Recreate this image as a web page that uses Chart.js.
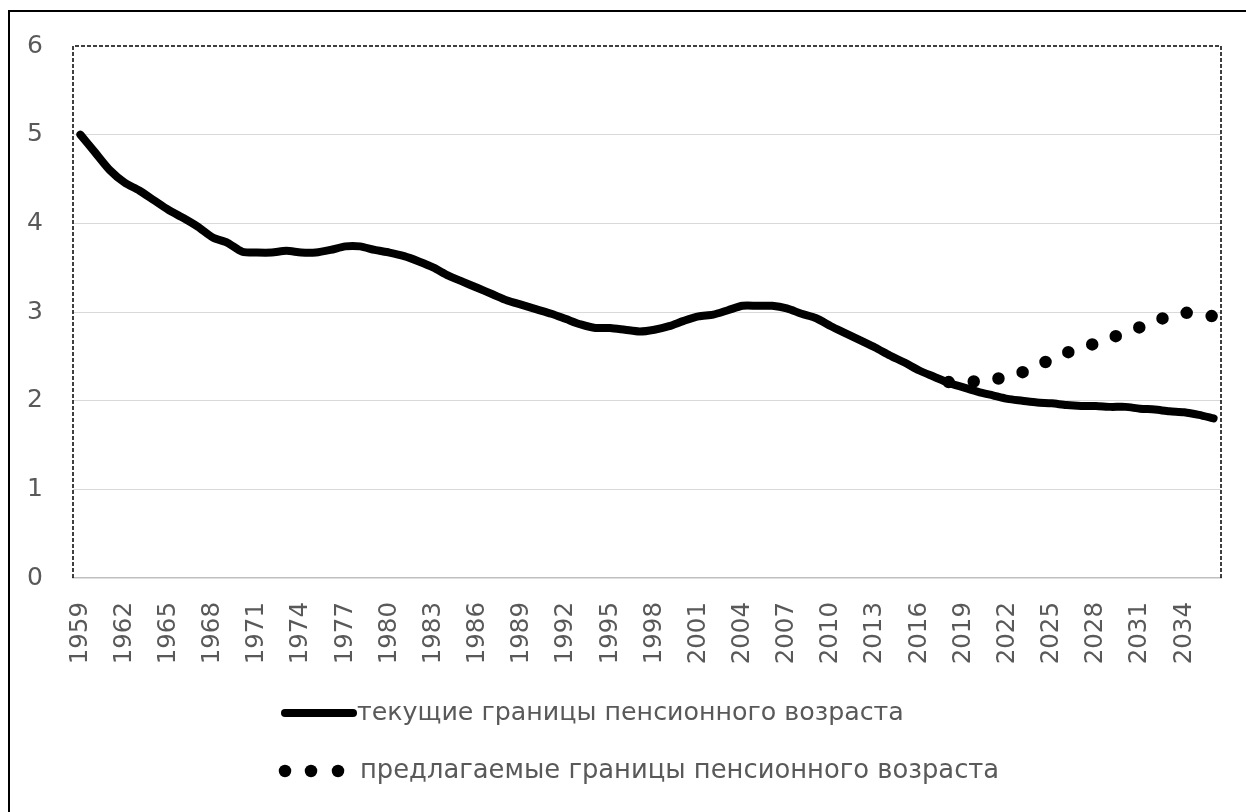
<!DOCTYPE html>
<html>
<head>
<meta charset="utf-8">
<script src="https://cdn.jsdelivr.net/npm/chart.js@4.4.0/dist/chart.umd.min.js"></script>
<style>
  html, body { margin: 0; padding: 0; background: #ffffff; }
  #wrap { position: relative; width: 1246px; height: 812px; overflow: hidden; }
  canvas { display: block; }
</style>
</head>
<body>
<div id="wrap"><canvas id="c" width="1246" height="812"></canvas></div>
<script>
// ---- data ----
const years = ["1959","1960","1961","1962","1963","1964","1965","1966","1967","1968",
  "1969","1970","1971","1972","1973","1974","1975","1976","1977","1978",
  "1979","1980","1981","1982","1983","1984","1985","1986","1987","1988",
  "1989","1990","1991","1992","1993","1994","1995","1996","1997","1998",
  "1999","2000","2001","2002","2003","2004","2005","2006","2007","2008",
  "2009","2010","2011","2012","2013","2014","2015","2016","2017","2018",
  "2019","2020","2021","2022","2023","2024","2025","2026","2027","2028",
  "2029","2030","2031","2032","2033","2034","2035","2036"];

const currentValues = [5.00,4.80,4.60,4.46,4.37,4.26,4.15,4.06,3.96,3.84,
  3.78,3.68,3.67,3.67,3.69,3.67,3.67,3.70,3.74,3.74,
  3.70,3.67,3.63,3.57,3.50,3.41,3.34,3.27,3.20,3.13,
  3.08,3.03,2.98,2.92,2.86,2.82,2.82,2.80,2.78,2.80,
  2.84,2.90,2.95,2.97,3.02,3.07,3.07,3.07,3.04,2.98,
  2.93,2.84,2.76,2.68,2.60,2.51,2.43,2.34,2.27,2.20,
  2.15,2.10,2.06,2.02,2.00,1.98,1.97,1.95,1.94,1.94,
  1.93,1.93,1.91,1.90,1.88,1.87,1.84,1.80];

const proposedYears = ["2018","2019","2020","2021","2022","2023","2024","2025","2026","2027",
  "2028","2029","2030","2031","2032","2033","2034","2035","2036"];
const proposedValues = [2.21,2.21,2.22,2.24,2.27,2.32,2.39,2.47,2.54,2.59,
  2.65,2.71,2.76,2.83,2.90,2.95,2.99,2.98,2.95];

const yTicks = [0,1,2,3,4,5,6];
const seriesLabels = ["текущие границы пенсионного возраста", "предлагаемые границы пенсионного возраста"];

const TEXT = "#595959";
const FONT = "DejaVu Sans";

// ---- plugins ----
const framePlugin = {
  id: "frame",
  beforeDatasetsDraw(chart) {
    const {ctx, chartArea: a} = chart;
    ctx.save();
    ctx.strokeStyle = "#000";
    ctx.lineWidth = 1.5;
    ctx.setLineDash([4, 2]);
    ctx.beginPath();
    ctx.moveTo(a.left, a.bottom);
    ctx.lineTo(a.left, a.top);
    ctx.lineTo(a.right, a.top);
    ctx.lineTo(a.right, a.bottom);
    ctx.stroke();
    ctx.restore();
  },
  afterDraw(chart) {
    const {ctx, width, height} = chart;
    ctx.save();
    // outer chart frame (extends beyond the picture on right/bottom)
    ctx.strokeStyle = "#000";
    ctx.lineWidth = 2;
    ctx.beginPath();
    ctx.moveTo(9, height + 5);
    ctx.lineTo(9, 11);
    ctx.lineTo(width + 5, 11);
    ctx.stroke();
    ctx.restore();
  }
};

const legendPlugin = {
  id: "customLegend",
  afterDraw(chart) {
    const {ctx, chartArea: a} = chart;
    const ds = chart.data.datasets;
    const x0 = a.left + 208;
    const rows = [a.bottom + 135, a.bottom + 193];
    ctx.save();
    ctx.textBaseline = "middle";
    ctx.fillStyle = TEXT;
    // row 1: solid line sample
    ctx.strokeStyle = ds[0].borderColor;
    ctx.lineWidth = ds[0].borderWidth;
    ctx.lineCap = "round";
    ctx.beginPath();
    ctx.moveTo(x0 + 4, rows[0]);
    ctx.lineTo(x0 + 72, rows[0]);
    ctx.stroke();
    ctx.font = "25.3px '" + FONT + "'";
    ctx.fillText(ds[0].label, x0 + 76, rows[0]);
    // row 2: dotted sample
    ctx.fillStyle = ds[1].borderColor;
    [x0 + 4, x0 + 30, x0 + 57].forEach(cx => {
      ctx.beginPath();
      ctx.arc(cx, rows[1], ds[1].borderWidth / 2, 0, Math.PI * 2);
      ctx.fill();
    });
    ctx.fillStyle = TEXT;
    ctx.font = "25.8px '" + FONT + "'";
    ctx.fillText(ds[1].label, x0 + 79, rows[1]);
    ctx.restore();
  }
};

new Chart(document.getElementById("c"), {
  type: "line",
  data: {
    labels: years,
    datasets: [
      {
        label: seriesLabels[0],
        data: currentValues,
        borderColor: "#000000",
        backgroundColor: "#000000",
        borderWidth: 8,
        borderCapStyle: "round",
        borderJoinStyle: "round",
        pointRadius: 0,
        tension: 0.25,
        fill: false
      },
      {
        label: seriesLabels[1],
        data: proposedYears.map((yr, i) => ({x: yr, y: proposedValues[i]})),
        borderColor: "#000000",
        backgroundColor: "#000000",
        borderWidth: 12.5,
        borderDash: [0, 25],
        borderCapStyle: "round",
        pointRadius: 0,
        tension: 0.25,
        fill: false
      }
    ]
  },
  options: {
    responsive: false,
    animation: false,
    events: [],
    layout: { padding: { left: 0, right: 25, top: 46, bottom: 134 } },
    plugins: {
      legend: { display: false },
      tooltip: { enabled: false },
      title: { display: false }
    },
    scales: {
      x: {
        type: "category",
        offset: true,
        grid: { display: false, drawTicks: false },
        border: { display: true, color: "#bfbfbf", width: 1.5, dash: [4, 2] },
        ticks: {
          autoSkip: false,
          maxRotation: 90,
          minRotation: 90,
          padding: 24,
          color: TEXT,
          font: { family: FONT, size: 24.5 },
          callback: function(value, index) {
            return index % 3 === 0 ? this.getLabelForValue(value) : "";
          }
        },
        afterFit(scale) {
          scale.height = 100;
          scale.paddingLeft = 0;
          scale.paddingRight = 0;
        }
      },
      y: {
        min: 0,
        max: 6,
        afterBuildTicks(scale) { scale.ticks = yTicks.map(v => ({value: v})); },
        grid: {
          drawTicks: false,
          lineWidth: 1,
          color: ctx => (ctx.tick && (ctx.tick.value === 0 || ctx.tick.value === 6)) ? "rgba(0,0,0,0)" : "#d9d9d9"
        },
        border: { display: false },
        ticks: {
          padding: 30,
          color: TEXT,
          font: { family: FONT, size: 25 }
        },
        afterFit(scale) {
          scale.width = 73;
          scale.paddingTop = 0;
          scale.paddingBottom = 0;
        }
      }
    }
  },
  plugins: [framePlugin, legendPlugin]
});
</script>
</body>
</html>
